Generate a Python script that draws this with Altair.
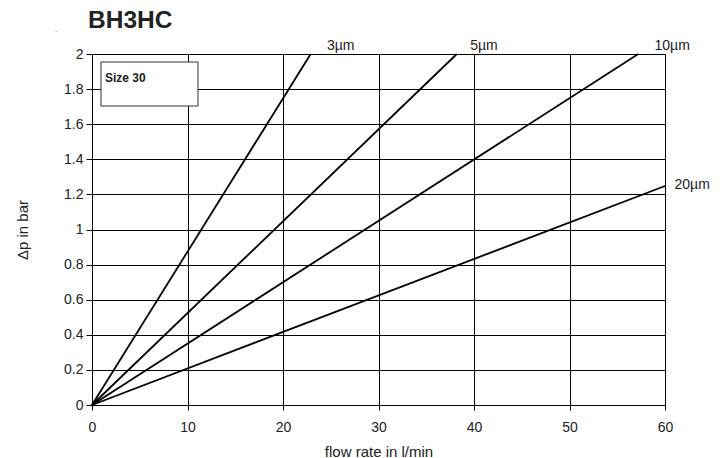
import altair as alt
import pandas as pd

series = ["3µm", "5µm", "10µm", "20µm"]
end_flow = [22.9, 38.2, 57.2, 60.0]
end_dp = [2.0, 2.0, 2.0, 1.248]
label_flow = [24.6, 39.6, 58.9, 61.0]
label_dp = [2.046, 2.046, 2.046, 1.254]
x_ticks = [0, 10, 20, 30, 40, 50, 60]
y_ticks = [0, 0.2, 0.4, 0.6, 0.8, 1.0, 1.2, 1.4, 1.6, 1.8, 2.0]

rows = []
for s, fx, fy in zip(series, end_flow, end_dp):
    rows.append({"series": s, "flow": 0.0, "dp": 0.0})
    rows.append({"series": s, "flow": fx, "dp": fy})
df = pd.DataFrame(rows)
lab = pd.DataFrame({"series": series, "flow": label_flow, "dp": label_dp})

FONT = "Liberation Sans"
W, H = 573, 351

xs = alt.Scale(domain=[0, 60], nice=False)
ys = alt.Scale(domain=[0, 2], nice=False)

x_axis = alt.Axis(values=x_ticks, title="flow rate in l/min", grid=True, gridColor="black",
                  gridWidth=1, gridOpacity=1, domainColor="black", tickColor="black",
                  tickSize=5, labelPadding=10, labelFontSize=14, labelColor="#222",
                  labelFlush=False, labelOverlap=False,
                  titleFontSize=15, titleFontWeight="normal", titleColor="#222",
                  titlePadding=10, labelFont=FONT, titleFont=FONT)
y_axis = alt.Axis(values=y_ticks, title="Δp in bar", format="~g", grid=True, gridColor="black",
                  gridWidth=1, gridOpacity=1, domainColor="black", tickColor="black",
                  tickSize=6, labelPadding=3, labelFontSize=14, labelColor="#222",
                  labelFlush=False, labelOverlap=False,
                  titleFontSize=15, titleFontWeight="normal", titleColor="#222",
                  titlePadding=33, labelFont=FONT, titleFont=FONT)

X = alt.X("flow:Q", scale=xs, axis=x_axis)
Y = alt.Y("dp:Q", scale=ys, axis=y_axis)

lines = alt.Chart(df).mark_line(color="black", strokeWidth=1.8).encode(
    x=X, y=Y, detail="series:N",
)

labels = alt.Chart(lab).mark_text(
    align="left", baseline="middle", fontSize=14, font=FONT, color="#222"
).encode(x=X, y=Y, text="series:N")

box = alt.Chart(pd.DataFrame({"a": [0]})).mark_rect(
    fill="white", stroke="#333", strokeWidth=1
).encode(x=alt.value(9), x2=alt.value(106), y=alt.value(8), y2=alt.value(52))

box_text = alt.Chart(pd.DataFrame({"t": ["Size 30"]})).mark_text(
    align="left", baseline="middle", fontSize=12, fontWeight="bold", font=FONT, color="#222"
).encode(x=alt.value(13), y=alt.value(24), text="t:N")

title = alt.Chart(pd.DataFrame({"t": ["BH3HC"]})).mark_text(
    align="left", baseline="alphabetic", fontSize=24.5, fontWeight="bold", font=FONT, color="#222"
).encode(x=alt.value(-4), y=alt.value(-26), text="t:N")

dot = alt.Chart(pd.DataFrame({"t": ["."]})).mark_text(
    align="center", baseline="middle", fontSize=8, font=FONT, color="#444"
).encode(x=alt.value(-36), y=alt.value(-24), text="t:N")

chart = alt.layer(lines, labels, box, box_text, title, dot).properties(
    width=W, height=H,
    autosize=alt.AutoSizeParams(type="none"),
    padding={"left": 84, "top": 46, "right": 49, "bottom": 60},
).configure_view(stroke="black", strokeWidth=1).configure(background="white")

chart.save("out.html", embed_options={"renderer": "svg", "actions": False})
